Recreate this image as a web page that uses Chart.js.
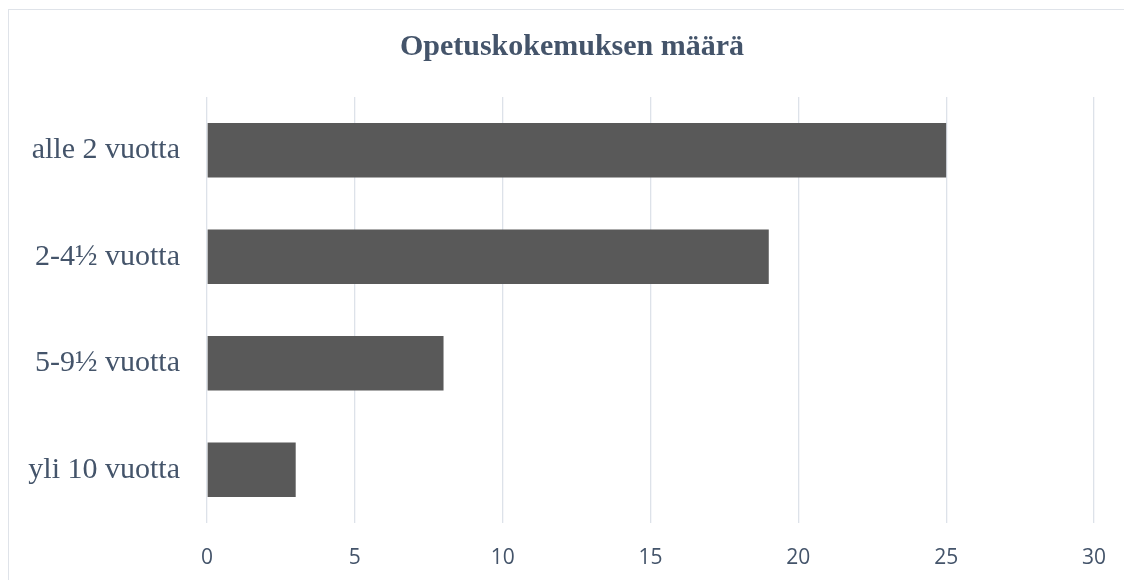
<!DOCTYPE html>
<html>
<head>
<meta charset="utf-8">
<script src="https://cdn.jsdelivr.net/npm/chart.js@4.4.1/dist/chart.umd.min.js"></script>
<style>
  html, body { margin: 0; padding: 0; overflow: hidden; background: #fff; }
  #wrap { position: relative; width: 1124px; height: 580px; }
  #frame {
    position: absolute; left: 8px; top: 9px; width: 1200px; height: 700px;
    border: 1px solid #dfe3e9; pointer-events: none;
  }
  canvas { position: absolute; left: 0; top: 0; }
</style>
</head>
<body>
<div id="wrap">
  <div id="frame"></div>
  <canvas id="chart" width="1124" height="580"></canvas>
</div>
<script>
const categories = ["alle 2 vuotta", "2-4½ vuotta", "5-9½ vuotta", "yli 10 vuotta"];
const counts = [25, 19, 8, 3];
const xTicks = [0, 5, 10, 15, 20, 25, 30];

const textColor = "#44546a";
const gridColor = "#dde2e9";

// the title is centred on the whole frame, which runs past the right edge
const shiftTitle = {
    id: "shiftTitle",
    afterLayout(chart) {
        chart.titleBlock.right += 41;
    }
};

const ctx = document.getElementById("chart").getContext("2d");
new Chart(ctx, {
    type: "bar",
    data: {
        labels: categories,
        datasets: [{
            label: "Opetuskokemuksen määrä",
            data: counts,
            backgroundColor: "#595959",
            borderWidth: 0,
            barPercentage: 0.51,
            categoryPercentage: 1
        }]
    },
    options: {
        indexAxis: "y",
        responsive: false,
        animation: false,
        layout: { padding: { left: 9, right: 30, top: 10, bottom: 0 } },
        plugins: {
            legend: { display: false },
            tooltip: { enabled: false },
            title: {
                display: true,
                text: "Opetuskokemuksen määrä",
                color: textColor,
                font: { family: "'Liberation Serif', serif", size: 30, weight: "bold" },
                padding: { top: 19, bottom: 32 }
            }
        },
        scales: {
            x: {
                min: xTicks[0],
                max: xTicks[xTicks.length - 1],
                afterBuildTicks: (axis) => { axis.ticks = xTicks.map(v => ({ value: v })); },
                afterFit: (axis) => {
                    axis.height = 57;
                    axis.paddingLeft = 0;
                    axis.paddingRight = 0;
                },
                grid: { color: gridColor, lineWidth: 1.3, drawTicks: false },
                border: { display: false },
                ticks: {
                    color: textColor,
                    padding: 22,
                    font: { family: "'Open Sans', sans-serif", size: 21 }
                }
            },
            y: {
                afterFit: (axis) => { axis.width = 198; },
                grid: { display: false, drawTicks: false },
                border: { display: false },
                ticks: {
                    color: textColor,
                    padding: 27,
                    font: { family: "'Liberation Serif', serif", size: 30 }
                }
            }
        }
    },
    plugins: [shiftTitle]
});
</script>
</body>
</html>
